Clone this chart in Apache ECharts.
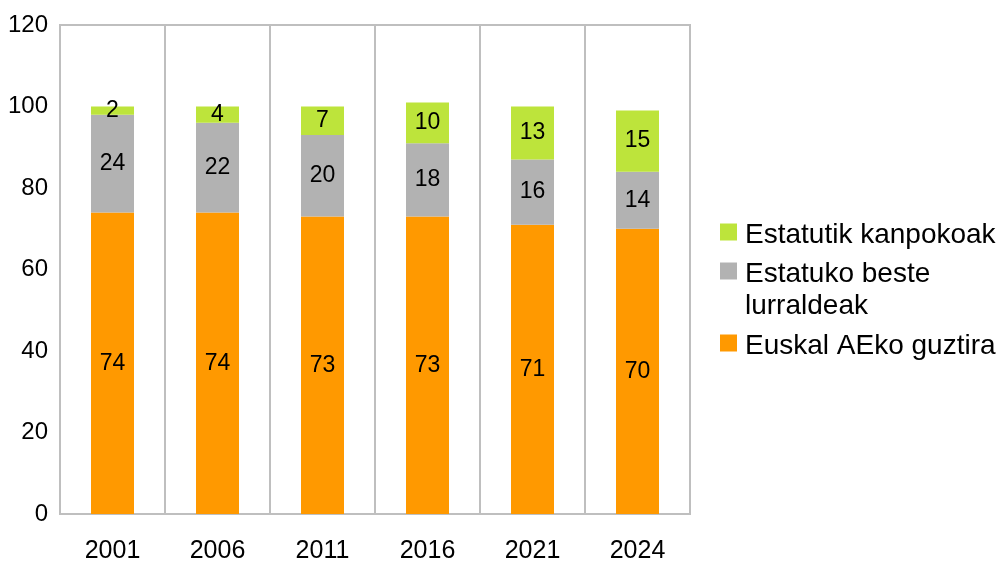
<!DOCTYPE html>
<html>
<head>
<meta charset="utf-8">
<script src="https://cdn.jsdelivr.net/npm/echarts@6/dist/echarts.min.js"></script>
<style>
  html, body { margin: 0; padding: 0; background: #fff; }
  #main { width: 1000px; height: 564px; }
</style>
</head>
<body>
<div id="main"></div>
<script>
const years = ["2001", "2006", "2011", "2016", "2021", "2024"];
const euskalAE = [74, 74, 73, 73, 71, 70];
const estatuko = [24, 22, 20, 18, 16, 14];
const kanpokoak = [2, 4, 7, 10, 13, 15];
const seriesNames = ["Euskal AEko guztira", "Estatuko beste lurraldeak", "Estatutik kanpokoak"];
const colors = ["#ff9900", "#b2b2b2", "#bde43b"];

const chart = echarts.init(document.getElementById("main"));
const font = "Liberation Sans";
const gridColor = "#bfbfbf";

const barLabel = {
  show: true,
  position: "inside",
  color: "#000",
  fontSize: 23,
  fontFamily: font,
};

// legend drawn by hand so the square sits on the first text line
const legendItems = [
  { text: "Estatutik kanpokoak", color: colors[2], y: 232 },
  { text: "Estatuko beste\nlurraldeak", color: colors[1], y: 271 },
  { text: "Euskal AEko guztira", color: colors[0], y: 343 },
];
const legendGraphic = [];
legendItems.forEach((it) => {
  legendGraphic.push({
    type: "rect",
    left: 720,
    top: it.y - 8.5,
    shape: { width: 17, height: 17 },
    style: { fill: it.color },
  });
  legendGraphic.push({
    type: "text",
    left: 745,
    top: it.y - 13,
    style: {
      text: it.text,
      fill: "#000",
      font: "28px 'Liberation Sans'",
      lineHeight: 32,
    },
  });
});

const option = {
  animation: false,
  textStyle: { fontFamily: font },
  grid: {
    left: 60,
    top: 25,
    width: 630,
    height: 491,
    show: true,
    borderColor: gridColor,
    borderWidth: 2,
    backgroundColor: "transparent",
  },
  graphic: legendGraphic,
  xAxis: {
    type: "category",
    data: years,
    axisLine: { show: true, lineStyle: { color: gridColor, width: 2 } },
    axisTick: { show: false },
    splitLine: { show: true, lineStyle: { color: gridColor, width: 2 } },
    axisLabel: { color: "#000", fontSize: 25, margin: 25, fontFamily: font },
  },
  yAxis: {
    type: "value",
    min: 0,
    max: 120,
    interval: 20,
    axisLine: { show: true, lineStyle: { color: gridColor, width: 2 } },
    axisTick: { show: false },
    splitLine: { show: false },
    axisLabel: { color: "#000", fontSize: 24, margin: 12, fontFamily: font },
  },
  series: [
    {
      name: seriesNames[0],
      type: "bar",
      stack: "total",
      data: euskalAE,
      barWidth: 43,
      itemStyle: { color: colors[0] },
      label: barLabel,
    },
    {
      name: seriesNames[1],
      type: "bar",
      stack: "total",
      data: estatuko,
      barWidth: 43,
      itemStyle: { color: colors[1] },
      label: barLabel,
    },
    {
      name: seriesNames[2],
      type: "bar",
      stack: "total",
      data: kanpokoak,
      barWidth: 43,
      itemStyle: { color: colors[2] },
      label: barLabel,
    },
  ],
};

chart.setOption(option);
</script>
</body>
</html>
